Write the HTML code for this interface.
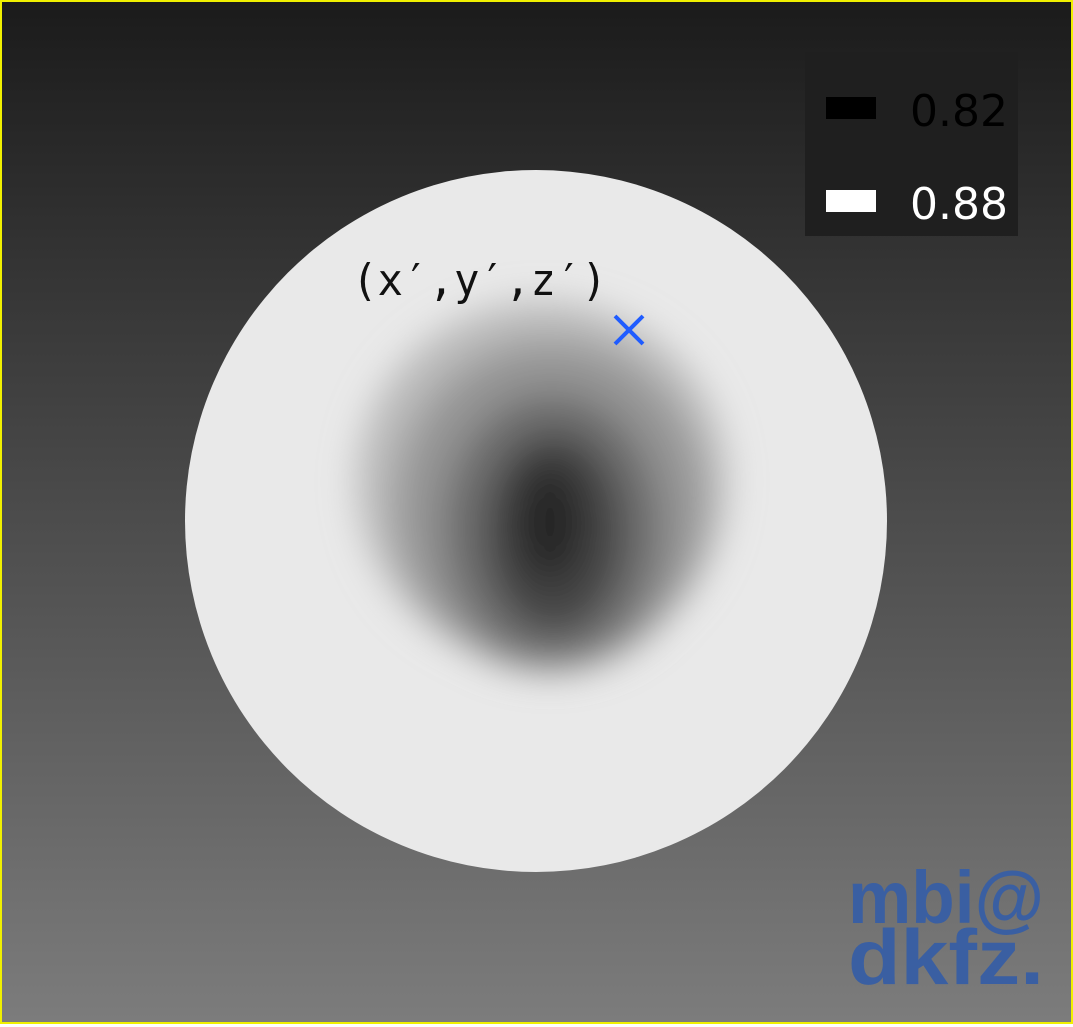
<!DOCTYPE html>
<html><head><meta charset="utf-8"><style>
html,body{margin:0;padding:0;}
body{width:1073px;height:1024px;overflow:hidden;}
#wrap{position:absolute;left:0;top:0;width:1069px;height:1020px;border:2px solid #f0f000;background:linear-gradient(#1b1b1b,#7c7c7c);}
</style></head><body>
<div id="wrap">
<svg id="chart" width="1069" height="1020">
<defs>
<filter id="blur" x="-50%" y="-50%" width="200%" height="200%"><feGaussianBlur stdDeviation="18"/></filter>
<clipPath id="clip"><circle cx="534" cy="519" r="351"/></clipPath>
</defs>
<circle cx="534" cy="519" r="351" fill="#e9e9e9"/>
<g id="blob" clip-path="url(#clip)" filter="url(#blur)"></g>
<text x="350" y="293" textLength="255" lengthAdjust="spacingAndGlyphs" font-family="'DejaVu Sans Mono','Liberation Mono',monospace" font-size="44" fill="#111">(x′,y′,z′)</text>
<g stroke="#1f5cff" stroke-width="4">
<line x1="613" y1="314" x2="641" y2="342"/><line x1="641" y1="314" x2="613" y2="342"/>
</g>
<rect x="803" y="50" width="213" height="184" fill="#1f1f1f"/>
<g id="legend"></g>
<g font-family="'Liberation Sans',sans-serif" font-weight="bold" fill="#3a5fa2">
<text x="846" y="921" font-size="74" textLength="196" lengthAdjust="spacingAndGlyphs">mbi@</text>
<text x="846" y="982" font-size="78" textLength="196" lengthAdjust="spacingAndGlyphs">dkfz.</text>
</g>
</svg>
</div>
<script>
// blob layers: centre x, centre y, rx, ry, grey level
const blobX=[540,548,550,552,548];
const blobY=[480,505,525,530,520];
const blobRx=[185,155,110,70,35];
const blobRy=[180,165,135,100,60];
const blobGrey=[175,140,100,60,30];
const legendValues=["0.82","0.88"];
const legendColors=["#000000","#ffffff"];
const svgNS="http://www.w3.org/2000/svg";
const blob=document.getElementById('blob');
for(let i=0;i<blobX.length;i++){
  const e=document.createElementNS(svgNS,'ellipse');
  e.setAttribute('cx',blobX[i]);e.setAttribute('cy',blobY[i]);
  e.setAttribute('rx',blobRx[i]);e.setAttribute('ry',blobRy[i]);
  const g=blobGrey[i];e.setAttribute('fill',`rgb(${g},${g},${g})`);
  e.setAttribute('opacity','0.8');
  
  
  blob.appendChild(e);
}
const leg=document.getElementById('legend');
for(let i=0;i<legendValues.length;i++){
  const y=95+i*93;
  const r=document.createElementNS(svgNS,'rect');
  r.setAttribute('x',824);r.setAttribute('y',y);r.setAttribute('width',50);r.setAttribute('height',22);
  r.setAttribute('fill',legendColors[i]);
  
  
  leg.appendChild(r);
  const t=document.createElementNS(svgNS,'text');
  t.setAttribute('x',908);t.setAttribute('y',y+29);
  t.setAttribute('font-family',"'DejaVu Sans','Liberation Sans',sans-serif");
  t.setAttribute('font-size','44');
  t.setAttribute('fill',i==0?'#000':'#fff');
  t.textContent=legendValues[i];
  
  
  leg.appendChild(t);
}
</script>
</body></html>
